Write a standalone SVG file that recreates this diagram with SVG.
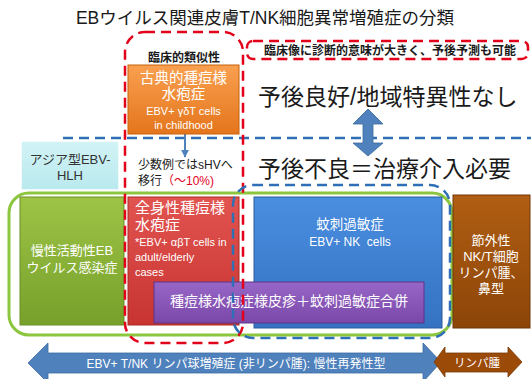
<svg xmlns="http://www.w3.org/2000/svg" width="531" height="379" viewBox="0 0 531 379">
<defs>
<style>
text{font-family:"Liberation Sans","Noto Sans CJK JP",sans-serif;}
.w{fill:#ffffff;}
.k{fill:#1a1a1a;}
.c{text-anchor:middle;}
.reddash{fill:none;stroke:#e3001b;stroke-width:2.5;stroke-dasharray:10 6;}
.bluedash{fill:none;stroke:#2f6fb5;stroke-width:2.5;stroke-dasharray:10 6;}
</style>
<linearGradient id="gOr" x1="0" y1="0" x2="0" y2="1"><stop offset="0" stop-color="#f9a050"/><stop offset="1" stop-color="#e4751c"/></linearGradient>
<linearGradient id="gCy" x1="0" y1="0" x2="0" y2="1"><stop offset="0" stop-color="#d2f3f6"/><stop offset="1" stop-color="#b9e9ee"/></linearGradient>
<linearGradient id="gOl" x1="0" y1="0" x2="0" y2="1"><stop offset="0" stop-color="#9ec446"/><stop offset="1" stop-color="#76a02b"/></linearGradient>
<linearGradient id="gRd" x1="0" y1="0" x2="0" y2="1"><stop offset="0" stop-color="#e25450"/><stop offset="1" stop-color="#c73431"/></linearGradient>
<linearGradient id="gBl" x1="0" y1="0" x2="0" y2="1"><stop offset="0" stop-color="#4a8ee0"/><stop offset="1" stop-color="#3572c2"/></linearGradient>
<linearGradient id="gPu" x1="0" y1="0" x2="0" y2="1"><stop offset="0" stop-color="#9866c6"/><stop offset="1" stop-color="#7a48a8"/></linearGradient>
<linearGradient id="gBr" x1="0" y1="0" x2="0" y2="1"><stop offset="0" stop-color="#b05e12"/><stop offset="1" stop-color="#8c4508"/></linearGradient>
<marker id="ah" viewBox="0 0 10 10" refX="9" refY="5" markerWidth="4" markerHeight="4" orient="auto"><path d="M0,0 L10,5 L0,10 z" fill="#4f81bd"/></marker>
</defs>

<rect width="531" height="379" fill="#ffffff"/>

<text x="265" y="24" class="c k" font-size="17.5">EBウイルス関連皮膚T/NK細胞異常増殖症の分類</text>

<g id="connectors">
<line x1="63" y1="138" x2="531" y2="138" class="bluedash" stroke="#4f81bd"/>
<line x1="185" y1="134" x2="185" y2="157" stroke="#4f81bd" stroke-width="2" marker-end="url(#ah)"/>
<path id="vArrow" d="M368,109 L383,124 L373,124 L373,143 L383,143 L368,156 L353,143 L363,143 L363,124 L353,124 Z" fill="#4f81bd" stroke="#3a6aa0" stroke-width="0.8"/>
</g>

<g id="region-green">
<rect x="9" y="193" width="443" height="142" rx="20" fill="none" stroke="#8cc63f" stroke-width="3"/>
</g>

<g id="node-cyan">
<rect x="21" y="141" width="98" height="49" fill="url(#gCy)" stroke="#ffffff" stroke-width="1.5"/>
<text x="70" y="164" class="c" fill="#333" font-size="13">アジア型EBV-</text>
<text x="70" y="180" class="c" fill="#333" font-size="13">HLH</text>
</g>

<g id="node-orange">
<rect x="128" y="65" width="111" height="69" fill="url(#gOr)" stroke="#c8620f" stroke-width="1"/>
<text x="183.5" y="83" class="c w" font-size="14.5">古典的種痘様</text>
<text x="183.5" y="99" class="c w" font-size="14.5">水疱症</text>
<text x="183.5" y="115" class="c w" font-size="11">EBV+ γδT cells</text>
<text x="183.5" y="129" class="c w" font-size="11">in childhood</text>
</g>

<g id="node-olive">
<rect x="20" y="197" width="104" height="128" fill="url(#gOl)" stroke="#6a9025" stroke-width="1"/>
<text x="72" y="255" class="c w" font-size="13">慢性活動性EB</text>
<text x="72" y="272" class="c w" font-size="13">ウイルス感染症</text>
</g>

<g id="node-red">
<rect x="128" y="197" width="111" height="128" fill="url(#gRd)" stroke="#a82a27" stroke-width="1"/>
<text x="135" y="213" class="w" font-size="15">全身性種痘様</text>
<text x="135" y="230" class="w" font-size="15">水疱症</text>
<text x="135" y="246" class="w" font-size="11">*EBV+ αβT cells in</text>
<text x="135" y="261" class="w" font-size="11">adult/elderly</text>
<text x="135" y="276" class="w" font-size="11">cases</text>
</g>

<g id="node-blue">
<rect x="254" y="197" width="188" height="131" fill="url(#gBl)" stroke="#2b5e9e" stroke-width="1"/>
<text x="350" y="229" class="c w" font-size="13.5">蚊刺過敏症</text>
<text x="350" y="246" class="c w" font-size="12" style="white-space:pre">EBV+ NK  cells</text>
</g>

<g id="node-purple">
<rect x="154" y="282" width="270" height="41" fill="url(#gPu)" stroke="#5f3589" stroke-width="1"/>
<text x="289" y="306" class="c w" font-size="14">種痘様水疱症様皮疹＋蚊刺過敏症合併</text>
</g>

<g id="node-brown">
<rect x="453" y="195" width="77" height="133" fill="url(#gBr)" stroke="#6e3606" stroke-width="1"/>
<text x="491" y="245" class="c w" font-size="13">節外性</text>
<text x="491" y="261" class="c w" font-size="13">NK/T細胞</text>
<text x="491" y="277" class="c w" font-size="13">リンパ腫、</text>
<text x="491" y="293" class="c w" font-size="13">鼻型</text>
</g>

<g id="region-red-left">
<rect x="125" y="32" width="118" height="311" rx="20" class="reddash"/>
<text x="184" y="62" class="c k" font-size="12" font-weight="bold">臨床的類似性</text>
</g>

<g id="region-red-top">
<rect x="247" y="41" width="281" height="18" rx="6" class="reddash"/>
<text x="390" y="55" class="c k" font-size="12" font-weight="bold">臨床像に診断的意味が大きく、予後予測も可能</text>
</g>

<g id="region-blue-dash">
<rect x="233" y="185" width="217" height="153" rx="20" class="bluedash"/>
</g>

<g id="labels">
<text x="258" y="105" class="k" font-size="23">予後良好/地域特異性なし</text>
<text x="258" y="177" class="k" font-size="23">予後不良＝治療介入必要</text>
<text x="138" y="169" class="k" font-size="12">少数例ではsHVへ</text>
<text x="138" y="185" font-size="12"><tspan fill="#1a1a1a">移行</tspan><tspan fill="#e3001b">（～10%)</tspan></text>
</g>

<g id="bottom-arrows">
<path d="M28,363 L48,343 L48,353 L423,353 L423,343 L441,362 L423,382 L423,373 L48,373 L48,383 Z" fill="#4f81bd" stroke="#3a6aa0" stroke-width="0.8"/>
<text x="236" y="368" class="c w" font-size="12">EBV+ T/NK リンパ球増殖症 (非リンパ腫): 慢性再発性型</text>
<path d="M434,362 L445,347 L445,353 L508,353 L508,347 L522,362 L508,377 L508,372 L445,372 L445,377 Z" fill="#9c4a08" stroke="#7a3a06" stroke-width="0.8"/>
<text x="477" y="367" class="c w" font-size="11.5">リンパ腫</text>
</g>
</svg>
